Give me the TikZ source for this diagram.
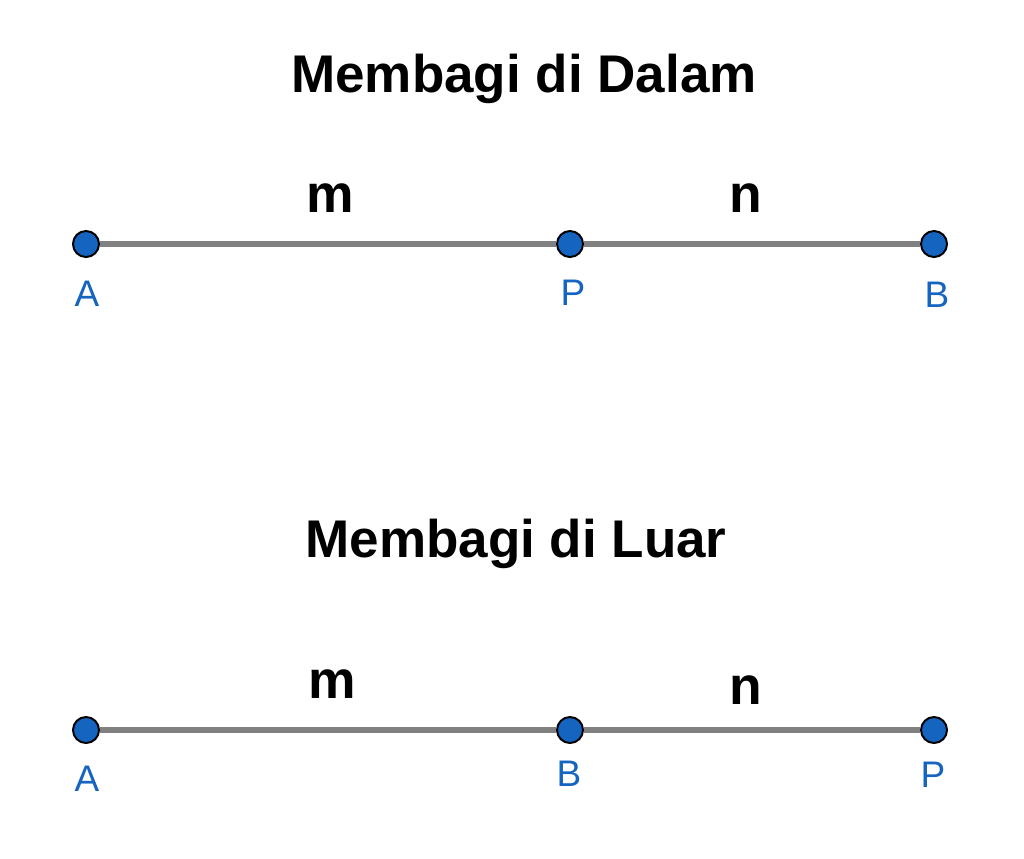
\documentclass[tikz,border=0pt]{standalone}
\usepackage{fontspec}
\setmainfont{Liberation Sans}
\usetikzlibrary{positioning}

\definecolor{ptblue}{HTML}{1565C0}
\definecolor{segGray}{HTML}{808080}

\tikzset{
  pt/.style={circle, draw=black, line width=1.4pt, fill=ptblue, minimum size=18.5pt, inner sep=0pt},
  seg/.style={segGray, line width=3.6pt},
  title/.style={anchor=base, font=\fontsize{37.7}{40}\bfseries\selectfont},
  ratio/.style={anchor=base, font=\fontsize{38}{40}\bfseries\selectfont},
  lbl/.style={anchor=base, text=ptblue, font=\fontsize{26.3}{28}\selectfont},
}

\begin{document}
\begin{tikzpicture}[x=0.025cm, y=-0.025cm]
  \useasboundingbox (0,0) rectangle (1024,858);

  % membagi di dalam
  \node[title] (t1) at (524,92) {Membagi di Dalam};
  \node[pt] (A1) at (86,244) {};
  \node[pt] (P1) at (570,244) {};
  \node[pt] (B1) at (934,244) {};
  \draw[seg] (A1) -- (P1);
  \draw[seg] (P1) -- (B1);
  \node[ratio] (m1) at (330,212) {m};
  \node[ratio] (n1) at (746,212) {n};
  \node[lbl] (lA1) at (87,306) {A};
  \node[lbl] (lP1) at (573,305) {P};
  \node[lbl] (lB1) at (937,307) {B};

  % membagi di luar
  \node[title] (t2) at (516,557) {Membagi di Luar};
  \node[pt] (A2) at (86,730) {};
  \node[pt] (B2) at (570,730) {};
  \node[pt] (P2) at (934,730) {};
  \draw[seg] (A2) -- (B2);
  \draw[seg] (B2) -- (P2);
  \node[ratio] (m2) at (332,698) {m};
  \node[ratio] (n2) at (746,704) {n};
  \node[lbl] (lA2) at (87,791) {A};
  \node[lbl] (lB2) at (569,786) {B};
  \node[lbl] (lP2) at (933,787) {P};
\end{tikzpicture}
\end{document}
